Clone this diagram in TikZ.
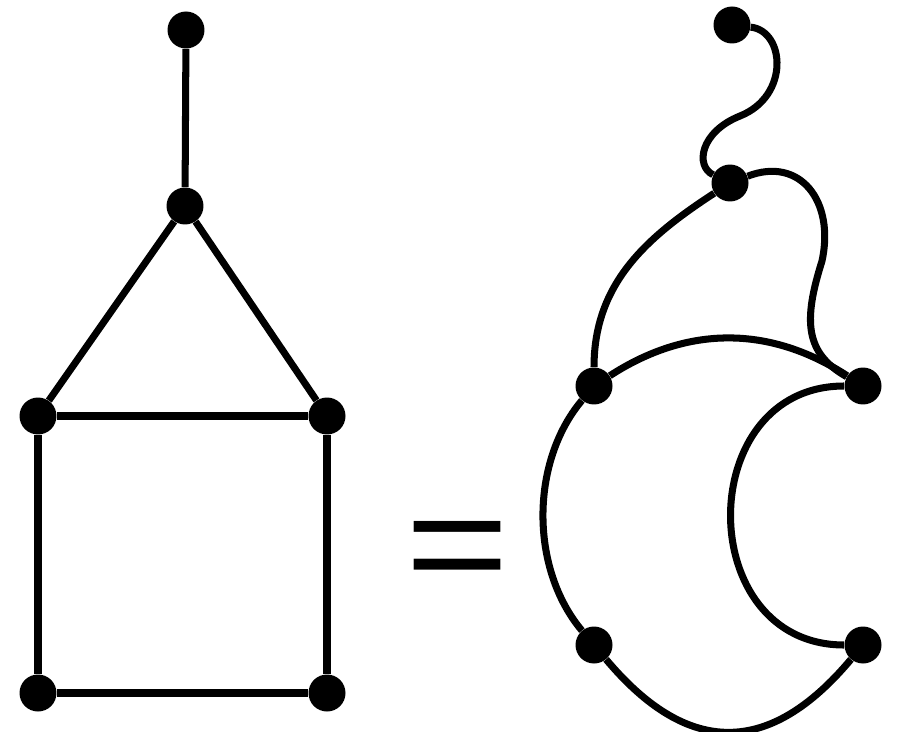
\documentclass[tikz,border=0pt]{standalone}
\usepackage{fontspec}
\usepackage{tikz}
\newfontfamily\eqfont{Liberation Sans}

\begin{document}
\begin{tikzpicture}[x=0.02cm, y=0.02cm,
	dot/.style={circle, fill=black, inner sep=0pt, minimum size=0.74cm},
	edge/.style={line width=4pt}]
	\useasboundingbox (0, 0) rectangle (902, 731);
	% left graph
	\foreach \name/\x/\y in {top/186/701, apex/185/525, lm/38/315, rm/327/315, bl/38/38, br/327/38} {
		\node[dot] (\name) at (\x, \y) {};
	}
	\draw[edge] (top) -- (apex);
	\draw[edge] (apex) -- (lm);
	\draw[edge] (apex) -- (rm);
	\draw[edge] (lm) -- (rm);
	\draw[edge] (lm) -- (bl);
	\draw[edge] (rm) -- (br);
	\draw[edge] (bl) -- (br);

	\node[xscale=1.18] (eq) at (458, 173) {\eqfont\fontsize{86}{86}\selectfont =};

	% right graph
	\foreach \name/\x/\y in {t/732/706, v/730/548, lu/594/345, ru/863/345, ll/594/86, rl/863/86} {
		\node[dot] (\name) at (\x, \y) {};
	}
	\draw[edge] (t) .. controls (785, 700) and (790, 635) .. (740, 615)
		.. controls (700, 599) and (695, 565) .. (v);
	\draw[edge] (v) to[out=213, in=90] (lu);
	\draw[edge] (v) .. controls (800, 575) and (835, 530) .. (822, 470)
		.. controls (803, 410) and (805, 378) .. (ru);
	\draw[edge] (lu) to[bend left=33] (ru);
	\draw[edge] (lu) to[out=230, in=130, looseness=0.9] (ll);
	\draw[edge] (ll) to[out=-50, in=-130, looseness=1.33] (rl);
	\draw[edge] (ru) to[out=180, in=180, looseness=1.5] (rl);
\end{tikzpicture}
\end{document}
